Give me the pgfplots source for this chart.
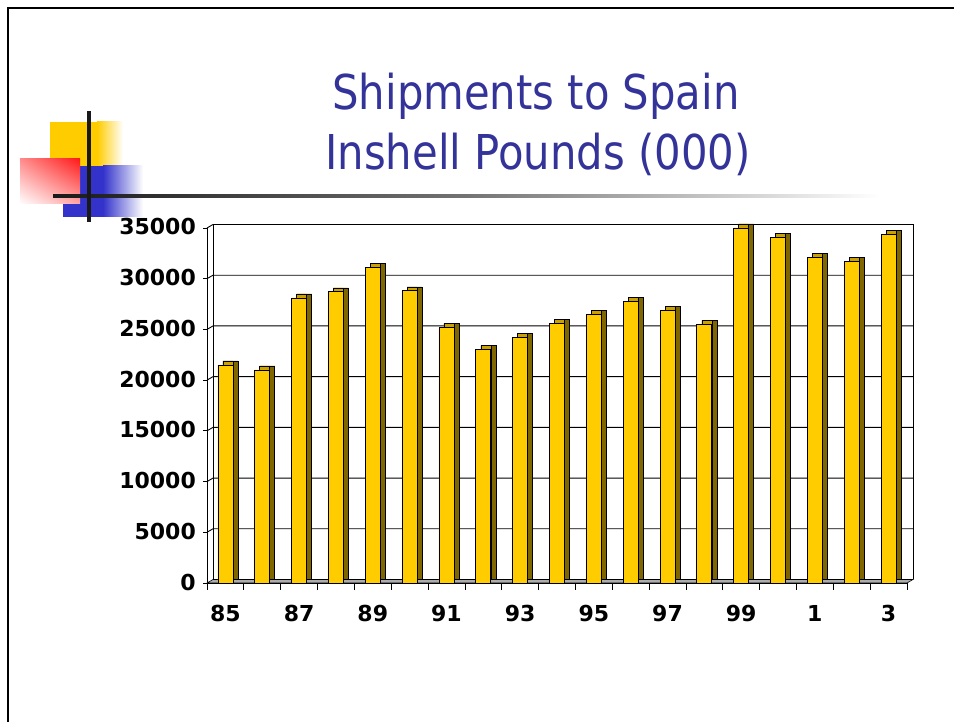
\documentclass[border=0pt]{standalone}
\usepackage{pgfplots}
\usepackage{pgfplotstable}
\pgfplotsset{compat=1.18}
\usetikzlibrary{shadings}
\usepackage{fontspec}
\setmainfont{DejaVu Sans}
\newfontfamily\titlefont[FakeStretch=0.87]{DejaVu Sans}
\definecolor{titleblue}{HTML}{333399}
\definecolor{barfront}{HTML}{FFCC00}
\definecolor{bartop}{HTML}{C9A100}
\definecolor{barside}{HTML}{806600}
\definecolor{decoyellow}{HTML}{FFCC00}
\definecolor{decoblue}{HTML}{3333CC}
\definecolor{decored}{HTML}{FF1A1A}

\pgfplotstableread{
x v
0 21500
1 21000
2 28100
3 28700
4 31100
5 28800
6 25200
7 23000
8 24200
9 25600
10 26500
11 27800
12 26900
13 25500
14 35000
15 34100
16 32100
17 31700
18 34400
}\ship

\begin{document}
\begin{tikzpicture}[x=1pt,y=1pt]
\useasboundingbox (0,0) rectangle (954,722);
% slide frame
\draw[line width=2.5pt,black] (8,0) -- (8,714) -- (954,714);
% decorations
\fill[decoyellow] (50,600) rectangle (97,555);
\shade[left color=decoyellow, right color=white] (97,600) rectangle (123,555);
\fill[decoblue] (63,556) rectangle (103,505);
\shade[left color=decoblue, right color=white] (103,556) rectangle (143,505);
\shade[upper right=decored, upper left=red!45, lower right=red!35, lower left=white] (20,563) rectangle (80,518);
\shade[left color=black!90, right color=white, middle color=black!55] (53,524.3) rectangle (880,527.7);
\fill[black!90] (87.2,611) rectangle (90.8,500);
% title
\node[anchor=base, font=\titlefont\fontsize{48}{48}\selectfont, text=titleblue] at (536,612) {Shipments to Spain};
\node[anchor=base, font=\titlefont\fontsize{48}{48}\selectfont, text=titleblue] at (538,552) {Inshell Pounds (000)};
\begin{axis}[
  at={(207pt,139pt)}, anchor=south west,
  scale only axis, width=700pt, height=355pt,
  xmin=-0.5, xmax=18.5, ymin=0, ymax=35000,
  clip=false,
  axis lines*=left, axis line style={-, black, line width=0.9pt},
  tick align=outside,
  xtick={0,2,...,18},
  xticklabels={85,87,89,91,93,95,97,99,1,3},
  minor xtick={-0.5,0.5,...,18.5},
  major x tick style={draw=none},
  minor x tick style={black, line width=0.7pt},
  minor tick length=7pt,
  ytick={0,5000,...,35000},
  scaled y ticks=false,
  major tick length=4pt,
  y tick style={black, line width=0.7pt},
  tick label style={font=\fontsize{22}{22}\selectfont\bfseries, inner sep=0pt},
  xticklabel style={anchor=north, yshift=-18pt},
  yticklabel style={anchor=east, xshift=-7pt, yshift=1pt},
  /pgf/number format/1000 sep={},
  /pgf/number format/assume math mode=true,
]
% back wall and gridlines
\pgfplotsinvokeforeach{5000,10000,15000,20000,25000,30000,35000}{
  \draw[black, line width=0.9pt] (axis cs:-0.5,#1) -- ([xshift=6pt,yshift=3.5pt]axis cs:-0.5,#1) -- ([xshift=6pt,yshift=3.5pt]axis cs:18.5,#1);
}
\draw[black, line width=0.9pt] ([xshift=6pt,yshift=3.5pt]axis cs:-0.5,0) -- ([xshift=6pt,yshift=3.5pt]axis cs:-0.5,35000);
\draw[black, line width=0.9pt] ([xshift=6pt,yshift=3.5pt]axis cs:18.5,0) -- ([xshift=6pt,yshift=3.5pt]axis cs:18.5,35000);
% floor
\filldraw[fill=gray!65, draw=black, line width=0.6pt] (axis cs:-0.5,0) -- (axis cs:18.5,0) -- ([xshift=6pt,yshift=3.5pt]axis cs:18.5,0) -- ([xshift=6pt,yshift=3.5pt]axis cs:-0.5,0) -- cycle;
% 3D bars: side, top, front
\addplot[ybar, bar width=15pt, bar shift=0pt, xshift=5pt, yshift=4pt, fill=barside, draw=black, line width=0.6pt] table[x=x,y=v] {\ship};
\addplot[ybar, bar width=10pt, bar shift=0pt, xshift=2.5pt, yshift=4pt, fill=bartop, draw=black, line width=0.6pt] table[x=x,y=v] {\ship};
\addplot[ybar, bar width=15pt, bar shift=0pt, fill=barfront, draw=black, line width=0.8pt] table[x=x,y=v] {\ship};
\end{axis}
\end{tikzpicture}
\end{document}
